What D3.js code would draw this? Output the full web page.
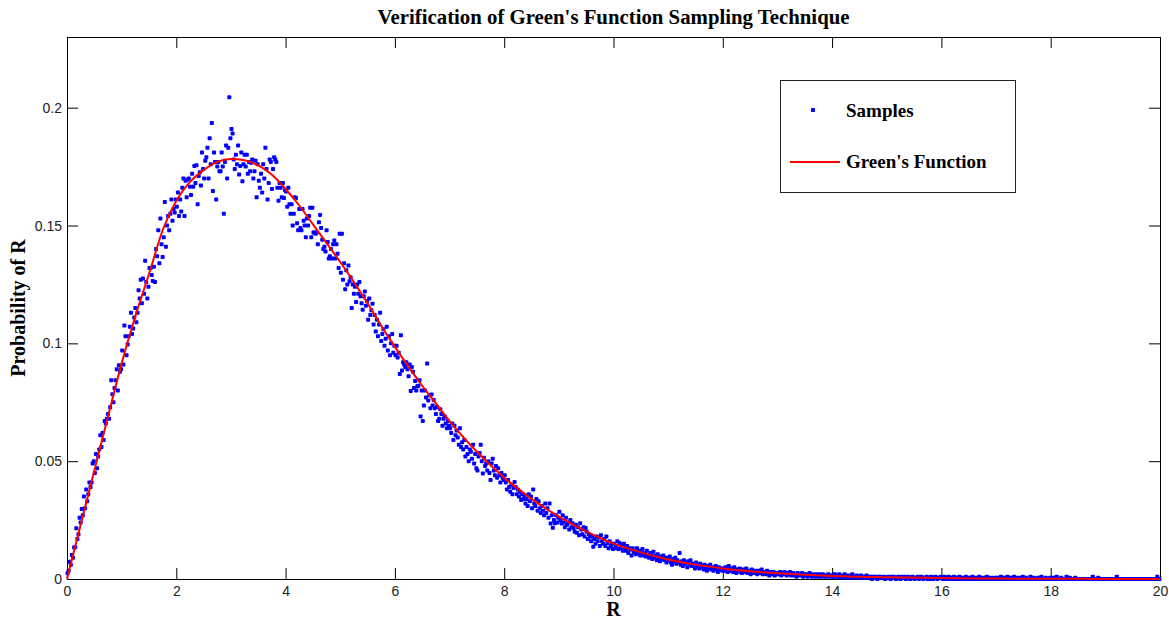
<!DOCTYPE html>
<html>
<head>
<meta charset="utf-8">
<script src="https://cdn.jsdelivr.net/npm/d3@7"></script>
<style>
  body { margin: 0; background: #fff; }
  svg { display: block; }
</style>
</head>
<body>
<div id="chart"></div>
<script>
// Green's function curve (probability in thousandths)
var curveR = [0, 0.25, 0.5, 0.75, 1, 1.25, 1.5, 1.75, 2, 2.25, 2.5, 2.75, 3, 3.25, 3.5, 3.75,
    4, 4.25, 4.5, 4.75, 5, 5.25, 5.5, 5.75, 6, 6.25, 6.5, 6.75, 7, 7.5, 8, 8.5, 9, 9.5,
    10, 10.5, 11, 11.5, 12, 12.5, 13, 13.5, 14, 15, 16, 17, 18, 19, 20];
var curveP = [0, 23, 46, 69, 91.5, 111.5, 129.4, 148, 160.5, 168.5, 173.5, 177, 178.2, 177.7, 175.5, 171.5,
    165.5, 158.5, 150.5, 142.5, 134.5, 126, 117, 107.5, 98.5, 90, 82, 74.5, 67, 54, 43, 34, 26.5, 20.2,
    15, 11.3, 8.3, 6.1, 4.5, 3.3, 2.4, 1.8, 1.3, 0.7, 0.4, 0.2, 0.1, 0.05, 0.02];

// samples, one row per unit of R, bins 0.02 wide (probability in thousandths)
var sampleStep = 0.02;
var samples = [
    [2.4, 3.5, 7.3, 6, 10.2, 9, 13.4, 13.5, 21.5, 17, 19, 26, 24, 29.7, 27, 35, 30, 38, 33, 36, 41, 39, 41, 49, 50, 45, 53, 47, 52, 55, 61, 56, 62, 59, 67, 66, 68, 70, 68, 72.9, 84.3, 78.4, 75, 81, 84.3, 89, 80, 90.7, 88, 89],
    [97, 91, 107.6, 103, 95, 99.5, 103, 107, 113, 104, 106.3, 111, 115, 109, 113, 122.5, 119, 127, 117, 127.5, 121, 135, 126, 119, 124, 132, 132, 129, 126.5, 132.5, 126, 140, 137, 148, 134, 153, 142, 136.6, 145, 160, 141, 150, 154, 148, 155, 161, 152, 157, 155.5, 161],
    [158, 164, 154, 161, 156, 166, 170, 154, 169, 162, 169.5, 170, 166.5, 163, 172, 166.5, 175.3, 168, 175.6, 159, 171, 172.6, 167, 181, 174, 170, 177.5, 179, 183, 170, 187, 176, 193.5, 164.6, 181, 177, 161, 175, 177, 173, 173, 181, 175, 155, 177, 184, 170, 183, 204.4, 187],
    [191, 189, 178, 174, 180, 176, 184, 171.6, 175.3, 181, 168.8, 176, 180, 175, 180, 172, 177, 173, 176.6, 178, 170, 173, 177.5, 162, 176, 169, 166, 172, 164, 176, 170, 183, 174, 161, 168, 178, 177, 165.5, 174, 179, 178, 177, 166, 160.5, 168, 166, 162, 168, 161.7, 165],
    [164.4, 158, 166, 159, 155, 159, 150, 155, 162, 161.7, 151, 148, 157, 149, 148, 157, 152, 150, 145, 153, 150, 154, 157.5, 145, 157.5, 147, 147, 146.5, 147, 142, 151.4, 154.5, 149, 144, 140, 141, 139, 148, 143, 136, 137, 140, 136, 142, 143.6, 136, 142, 138, 132, 146.5],
    [130, 146.5, 127, 134, 123, 131, 125, 133, 126.4, 128, 115, 125, 121, 124, 117.5, 125, 121, 126, 120, 117, 114.3, 120, 122, 116, 118, 110, 119, 112, 114, 116.8, 108, 112, 105, 110, 103, 108, 113, 101, 104, 106, 99, 102, 107, 97, 103, 95, 100, 104, 96, 99],
    [95, 99, 94, 96, 87, 103.4, 88.5, 92, 91, 90, 92, 89, 86, 91, 79.8, 90, 88, 81, 84, 80, 81.8, 82, 84.3, 69, 80, 67, 73.6, 80, 77, 91.4, 75.8, 78, 72.5, 78.3, 73.6, 76, 72.5, 70, 73, 67, 68, 72, 70, 65, 68, 69, 66, 64, 67, 65],
    [64, 62, 66, 59, 65, 61, 63, 60, 57, 64, 56, 58, 55, 59, 52, 56, 53, 50, 55, 54, 51, 57, 49, 53, 47, 46, 52, 53.5, 57, 50, 44.8, 51.5, 48, 49, 46, 50, 45, 42, 49, 51, 46, 44, 48, 43, 47, 44, 41, 45, 43, 42],
    [44, 41, 38, 42, 39, 37, 40, 36, 38.6, 41.2, 39, 36, 38, 35, 37, 33.5, 36, 34, 35.6, 32, 34, 31, 36, 33, 35, 30, 38, 32, 31, 34, 29, 33, 30, 28, 31, 29, 27, 32, 28, 30, 26, 32, 23.6, 27, 21.7, 25, 23.7, 27, 24, 26],
    [28.5, 25, 23.6, 27, 24, 22, 26, 23, 24, 21, 25, 22, 23.7, 21.6, 20, 23, 19.6, 22, 18.6, 23.7, 21, 19, 22, 18, 21.6, 20, 17, 19, 18, 16, 18, 13.7, 17, 15, 18, 16, 17.7, 14, 18.6, 16, 15, 17, 14, 18, 15.3, 13, 16, 14, 15, 12.7],
    [15, 13, 14, 16, 12.7, 15.3, 13, 14.5, 12, 15, 13.5, 12, 14, 11, 13, 12.5, 10, 13, 11.5, 12, 10.5, 13, 11, 12, 10, 11.5, 12.7, 10, 11, 9.5, 12, 10, 9, 11, 10, 8.5, 11.6, 9, 10, 8, 10.5, 9, 7.5, 9.5, 8.5, 10, 8, 9, 7, 9],
    [8, 9.5, 7, 6, 8.5, 7.5, 9, 6.5, 8, 7, 11, 6, 7.5, 5.5, 8, 6.5, 7, 5, 7.5, 6, 8, 5.5, 6.5, 6, 4.5, 7, 5, 6, 4.5, 6.5, 5, 5.5, 4, 6, 5, 3.5, 5.5, 4.5, 6, 4, 5, 3.5, 4.5, 5.5, 4, 3, 5, 4, 4.5, 3.5],
    [4.5, 3.5, 5, 4, 3, 5.5, 4, 3.5, 4.5, 3, 5, 4, 2.5, 4, 3.5, 4.5, 3, 2.5, 4, 3.5, 3, 4.5, 2.5, 3.5, 3, 2, 4, 3, 2.5, 3.5, 3, 2, 3.5, 2.5, 3, 4, 2, 3, 2.5, 2, 3.5, 2.5, 1.5, 3, 2, 2.5, 3, 1.5, 2.5, 2],
    [2.5, 2, 3, 1.5, 2.5, 2, 3, 2.5, 1.5, 2, 2.5, 3, 1.5, 2, 2.5, 1.5, 2, 1, 2.5, 2, 1.5, 2, 2.5, 1, 2, 1.5, 2, 1, 1.5, 2.5, 1.5, 1, 2, 1.5, 1, 2, 1.5, 1, 2, 1, 1.5, 2, 1, 1.5, 1, 1.5, 2, 1, 1.5, 1],
    [1.5, 1, 2, 1, 1.5, 1, 2, 0.5, 1.5, 1, 1, 2, 0.5, 1.5, 1, 0.5, 1.5, 1, 2, 1, 0.5, 1, 1.5, 1, 0.5, 1, 1.5, 0.5, 1, 0.5, 1, 1.5, 0.5, 1, 0.5, 1, 0, 1, 0.5, 1, 0.5, 0, 1, 0.5, 1, 0.5, 0.5, 1, 0, 0.5],
    [0.5, 1, 0.5, 0, 1, 0.5, 1, 0.5, 0, 0.5, 1, 0.5, 0, 1, 0.5, 0.5, 1, 0, 0.5, 1, 0.5, 0, 0.5, 1, 0.5, 0, 0.5, 0.5, 1, 0, 0.5, 1, 0.5, 0, 0.5, 0.5, 1, 0, 0.5, 0, 1, 0.5, 0, 0.5, 1, 0.5, 0, 0.5, 0.5, 1],
    [0.5, 0, 1, 0.5, 0, 0.5, 1, 0, 0.5, 0.5, 0, 1, 0.5, 0, 0.5, 0, 1, 0.5, 0, 0.5, 0, 0.5, 1, 0, 0.5, 0, 0.5, 0, 1, 0.5, 0, 0, 0.5, 0, 1, 0, 0.5, 0, 0, 0.5, 0, 1, 0, 0.5, 0, 0, 0.5, 0, 0, 0.5],
    [0, 0.5, 0, 0, 1, 0, 0.5, 0, 0, 0.5, 1, 0, 0, 0.5, 0, 0, 1, 0, 0, 0.5, 0, 0, 0.5, 0, 1, 0, 0, 0.5, 0, 0, 0, 1, 0, 0, 0.5, 0, 0, 0, 0.5, 0, 0, 1, 0, 0, 0, 0.5, 0, 0, 0, 0.5],
    [0, 0, 0.5, 0, 0, 1, 0, 0, 0, 0.5, 0, 0, 0, 0, 1, 0, 0, 0.5, 0, 0, 0, 0, 0.5, 0, 0, 0, 0, 0, 0, 0, 0, 0, 0, 0, 0, 0, 0, 0, 1, 0, 0, 0, 0, 0.5, 0, 0, 0, 0, 0, 0],
    [0, 0, 0, 0, 0, 0, 0, 0, 0, 0, 1, 0, 0, 0, 0, 0, 0, 0, 0, 0, 0, 0, 0, 0, 0, 0, 0, 0, 0, 0, 0, 0, 0, 0, 0, 0, 0, 0, 0, 0, 0, 0, 0, 0, 0, 0, 0, 1, 0, 0]
];

var xTicks = [0, 2, 4, 6, 8, 10, 12, 14, 16, 18, 20];
var yTicks = [0, 0.05, 0.1, 0.15, 0.2];

var titleText = "Verification of Green's Function Sampling Technique";
var xLabel = "R";
var yLabel = "Probability of R";
var legendNames = ["Samples", "Green's Function"];

(function() {
    var margin = { top: 37, left: 67, right: 9, bottom: 42 },
        width = 1169 - margin.left - margin.right,
        height = 621 - margin.top - margin.bottom;

    var serif = "'Liberation Serif', 'Times New Roman', serif",
        sans = "'Liberation Sans', Arial, sans-serif";

    var svg = d3.select("#chart")
        .append("svg")
        .attr("width", 1169)
        .attr("height", 621);

    svg.append("rect").attr("width", 1169).attr("height", 621).attr("fill", "#fff");

    var g = svg.append("g")
        .attr("transform", "translate(" + margin.left + "," + margin.top + ")");

    var x = d3.scaleLinear().domain([0, 20]).range([0, width]);
    var y = d3.scaleLinear().domain([0, 0.23]).range([height, 0]);

    var points = [];
    samples.forEach(function(row, u) {
        row.forEach(function(v, k) {
            points.push({ r: u + sampleStep / 2 + k * sampleStep, p: v / 1000 });
        });
    });
    var curve = curveR.map(function(r, i) { return { r: r, p: curveP[i] / 1000 }; });

    // axes, MATLAB style: ticks pointing inwards on all four sides
    function styleAxis(sel) {
        sel.select(".domain").remove();
        sel.selectAll(".tick line").attr("stroke", "#000");
        sel.selectAll(".tick text")
            .attr("fill", "#222")
            .style("font-family", sans)
            .style("font-size", "14px");
    }

    g.append("g")
        .attr("transform", "translate(0," + height + ")")
        .call(d3.axisBottom(x).tickValues(xTicks).tickSize(-11).tickSizeOuter(0).tickPadding(7))
        .call(styleAxis);
    g.append("g")
        .call(d3.axisTop(x).tickValues(xTicks).tickSize(-11).tickSizeOuter(0).tickFormat(""))
        .call(styleAxis);
    g.append("g")
        .call(d3.axisLeft(y).tickValues(yTicks).tickSize(-11).tickSizeOuter(0).tickPadding(5)
            .tickFormat(function(d) { return String(d); }))
        .call(styleAxis);
    g.append("g")
        .attr("transform", "translate(" + width + ",0)")
        .call(d3.axisRight(y).tickValues(yTicks).tickSize(-11).tickSizeOuter(0).tickFormat(""))
        .call(styleAxis);

    g.append("rect")
        .attr("x", 0.5).attr("y", 0.5)
        .attr("width", width).attr("height", height)
        .attr("fill", "none")
        .attr("stroke", "#000")
        .attr("stroke-width", 1);

    // samples, drawn as small squares like MATLAB's '.' marker
    g.append("g").selectAll("rect")
        .data(points)
        .enter().append("rect")
        .attr("x", function(d) { return x(d.r) - 2; })
        .attr("y", function(d) { return y(d.p) - 2; })
        .attr("width", 4)
        .attr("height", 4)
        .attr("rx", 0.8)
        .attr("fill", "#0000ff");

    // Green's function
    var line = d3.line()
        .x(function(d) { return x(d.r); })
        .y(function(d) { return y(d.p); })
        .curve(d3.curveMonotoneX);

    g.append("path")
        .datum(curve)
        .attr("d", line)
        .attr("fill", "none")
        .attr("stroke", "#ff0000")
        .attr("stroke-width", 2);

    // title and labels
    svg.append("text")
        .attr("x", margin.left + width / 2).attr("y", 24)
        .attr("text-anchor", "middle")
        .style("font-family", serif).style("font-weight", "bold").style("font-size", "20.8px")
        .text(titleText);

    svg.append("text")
        .attr("x", margin.left + width / 2).attr("y", 616)
        .attr("text-anchor", "middle")
        .style("font-family", serif).style("font-weight", "bold").style("font-size", "20px")
        .text(xLabel);

    svg.append("text")
        .attr("transform", "translate(25," + (margin.top + height / 2) + ") rotate(-90)")
        .attr("text-anchor", "middle")
        .style("font-family", serif).style("font-weight", "bold").style("font-size", "20px")
        .text(yLabel);

    // legend
    var lg = svg.append("g").attr("transform", "translate(780,80)");
    lg.append("rect")
        .attr("x", 0.5).attr("y", 0.5)
        .attr("width", 235).attr("height", 112)
        .attr("fill", "#fff")
        .attr("stroke", "#222");
    lg.append("rect")
        .attr("x", 31).attr("y", 28)
        .attr("width", 4).attr("height", 4)
        .attr("rx", 0.8)
        .attr("fill", "#0000ff");
    lg.append("line")
        .attr("x1", 10).attr("x2", 60)
        .attr("y1", 82).attr("y2", 82)
        .attr("stroke", "#ff0000").attr("stroke-width", 2);
    lg.selectAll("text.legend")
        .data(legendNames)
        .enter().append("text")
        .attr("class", "legend")
        .attr("x", 66)
        .attr("y", function(d, i) { return 37 + i * 51; })
        .style("font-family", serif).style("font-weight", "bold").style("font-size", "19px")
        .text(function(d) { return d; });
})();
</script>
</body>
</html>
